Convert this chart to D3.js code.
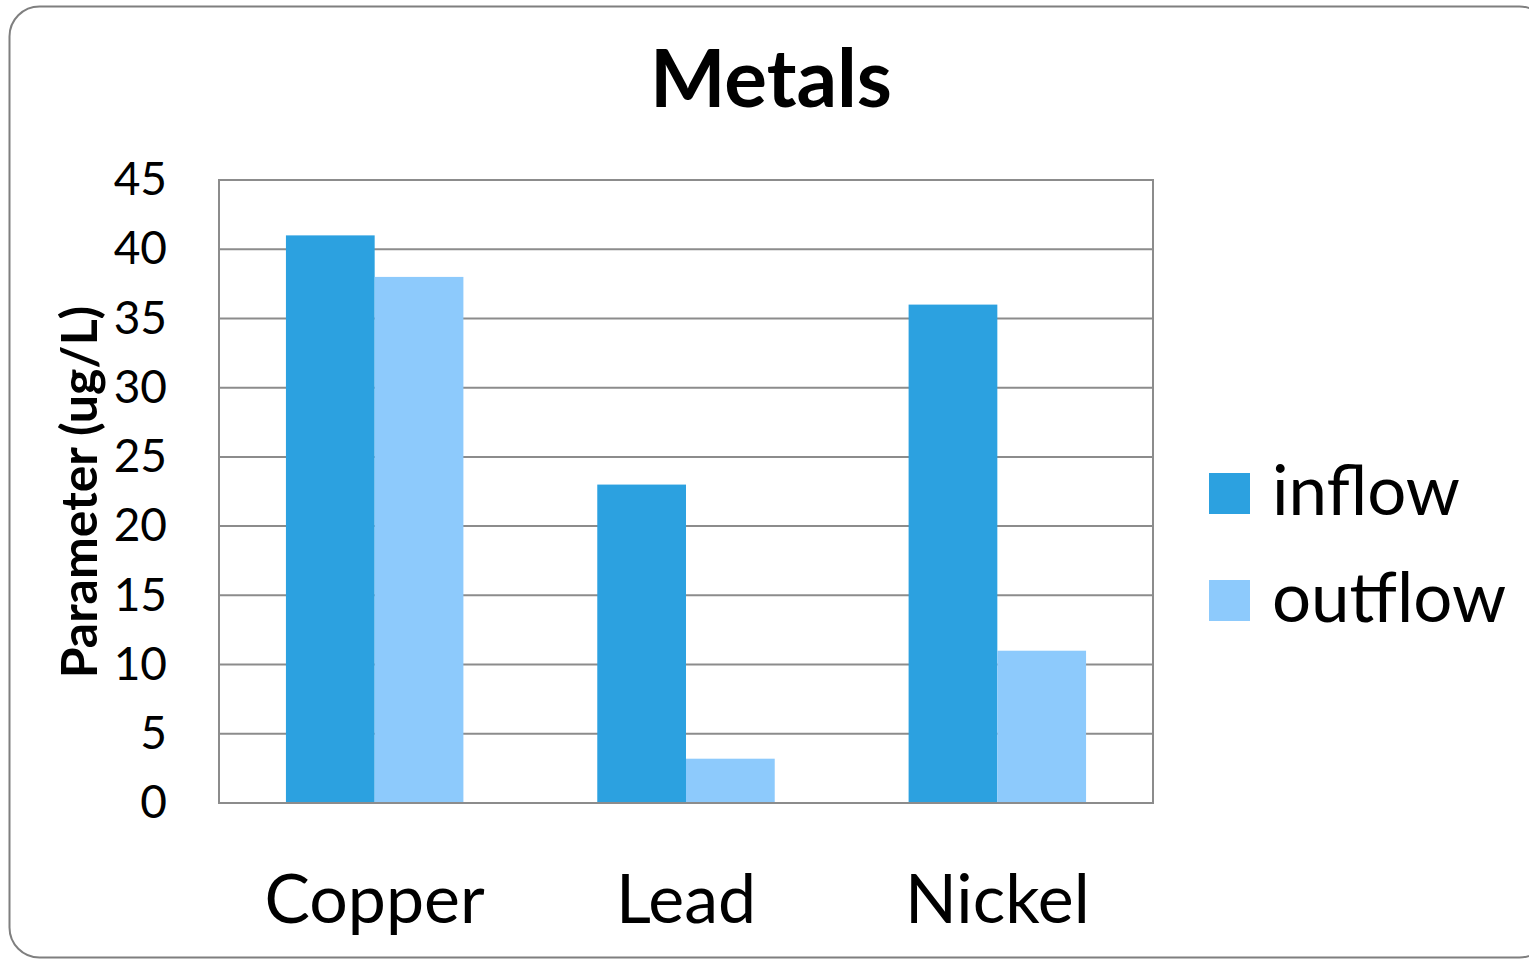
<!DOCTYPE html>
<html>
<head>
<meta charset="utf-8">
<script src="https://cdn.jsdelivr.net/npm/d3@7"></script>
<style>
  html, body { margin: 0; padding: 0; background: #ffffff; }
  svg { display: block; }
  text { font-family: Lato, "Open Sans", sans-serif; fill: #000; }
</style>
</head>
<body>
<svg id="chart" width="1529" height="960"></svg>
<script>
const categories = ["Copper", "Lead", "Nickel"];
const seriesNames = ["inflow", "outflow"];
const inflow = [41, 23, 36];
const outflow = [38, 3.2, 11];
const yTicks = [0, 5, 10, 15, 20, 25, 30, 35, 40, 45];
const chartTitle = "Metals";
const yTitle = "Parameter (ug/L)";
const colors = ["#2ca1e0", "#8dcafc"];

const svg = d3.select("#chart");
const plot = { left: 219, right: 1153, top: 180, bottom: 803 };

// outer rounded border
svg.append("rect")
  .attr("x", 9.5).attr("y", 6.5)
  .attr("width", 1540).attr("height", 951)
  .attr("rx", 30).attr("ry", 30)
  .attr("fill", "#fff").attr("stroke", "#7f7f7f").attr("stroke-width", 2);

const x0 = d3.scaleBand().domain(categories)
  .range([plot.left, plot.right]).paddingInner(0.43).paddingOuter(0.215);
const x1 = d3.scaleBand().domain(seriesNames).range([0, x0.bandwidth()]);
const y = d3.scaleLinear().domain([0, 45]).range([plot.bottom, plot.top]);

// gridlines
svg.append("g").selectAll("line").data(yTicks.filter(t => t > 0 && t < 45)).join("line")
  .attr("x1", plot.left).attr("x2", plot.right)
  .attr("y1", d => y(d)).attr("y2", d => y(d))
  .attr("stroke", "#8c8c8c").attr("stroke-width", 2);

// bars
const data = categories.map((c, i) => ({ cat: c, values: [inflow[i], outflow[i]] }));
const groups = svg.append("g").selectAll("g").data(data).join("g")
  .attr("transform", d => `translate(${x0(d.cat)},0)`);
groups.selectAll("rect").data(d => d.values.map((v, j) => ({ key: seriesNames[j], v, j }))).join("rect")
  .attr("x", d => x1(d.key))
  .attr("y", d => y(d.v))
  .attr("width", x1.bandwidth())
  .attr("height", d => y(0) - y(d.v))
  .attr("fill", d => colors[d.j]);

// plot border
svg.append("rect")
  .attr("x", plot.left).attr("y", plot.top)
  .attr("width", plot.right - plot.left).attr("height", plot.bottom - plot.top)
  .attr("fill", "none").attr("stroke", "#8c8c8c").attr("stroke-width", 2);

// y axis labels
const yAxis = d3.axisLeft(y).tickValues(yTicks).tickSize(0).tickPadding(52);
const ya = svg.append("g").attr("transform", `translate(${plot.left},0)`).call(yAxis);
ya.select(".domain").remove();
ya.selectAll("text").style("font-family", "Lato, sans-serif").style("font-size", "46px").attr("fill", "#000");

// x axis labels
const xAxis = d3.axisBottom(x0.copy().paddingInner(0).paddingOuter(0)).tickSize(0).tickPadding(72);
const xa = svg.append("g").attr("transform", `translate(0,${plot.bottom})`).call(xAxis);
xa.select(".domain").remove();
xa.selectAll("text").style("font-family", "Lato, sans-serif").style("font-size", "68px").attr("fill", "#000");

// title
svg.append("text").attr("x", 771).attr("y", 107).attr("text-anchor", "middle")
  .style("font-size", "80px").style("font-weight", "bold").text(chartTitle);

// y title
svg.append("text").attr("transform", "translate(97,492) rotate(-90)").attr("text-anchor", "middle")
  .style("font-size", "50px").style("font-weight", "bold").text(yTitle);

// legend
const leg = svg.append("g").selectAll("g").data(seriesNames).join("g")
  .attr("transform", (d, i) => `translate(1209,${473 + i * 107})`);
leg.append("rect").attr("width", 41).attr("height", 41).attr("fill", (d, i) => colors[i]);
leg.append("text").attr("x", 63).attr("y", 42).style("font-size", "69px").text(d => d);
</script>
</body>
</html>
